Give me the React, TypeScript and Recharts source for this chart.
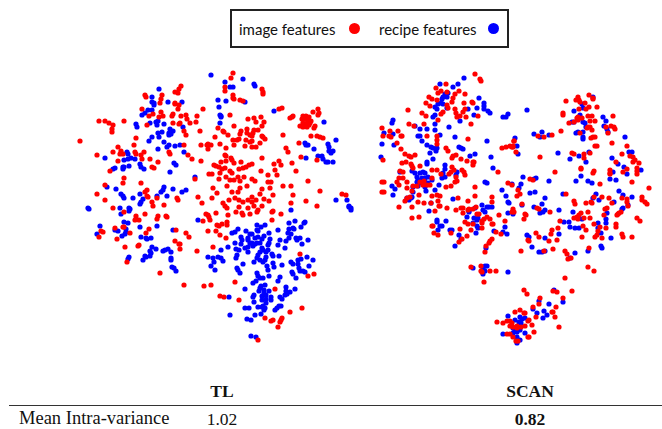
import React from "react";
import { ScatterChart, Scatter, XAxis, YAxis } from "recharts";

type P = [number, number];

const leftRed: P[] = [[181,86],[179,89],[175,92],[178,93],[162,95],[161,99],[160,103],[145,95],[146,97],[175,103],[175,104],[179,105],[178,109],[203,109],[142,109],[161,112],[163,116],[159,117],[153,114],[149,116],[173,114],[172,116],[181,116],[186,115],[197,116],[187,119],[190,123],[196,122],[99,121],[105,121],[109,123],[113,125],[124,121],[112,129],[112,132],[147,125],[173,123],[180,123],[179,124],[200,131],[218,128],[184,131],[186,135],[215,137],[136,138],[80,141],[134,145],[184,145],[201,145],[207,145],[211,145],[208,144],[208,149],[220,144],[118,147],[113,152],[121,151],[120,154],[123,154],[135,152],[136,154],[144,152],[141,155],[142,159],[169,152],[170,154],[97,155],[188,155],[192,159],[118,161],[150,159],[158,162],[201,161],[214,165],[216,166],[219,167],[152,167],[154,168],[110,171],[220,173],[209,174],[212,174],[124,178],[195,179],[219,179],[123,183],[141,183],[105,185],[213,188],[147,190],[145,192],[97,194],[217,193],[147,196],[148,197],[157,198],[177,198],[178,200],[198,197],[105,200],[202,203],[212,198],[152,202],[153,206],[164,205],[113,208],
[233,73],[231,78],[225,87],[225,91],[262,89],[263,92],[263,94],[233,95],[233,98],[234,99],[240,100],[243,101],[282,108],[279,109],[318,109],[313,112],[319,113],[318,115],[230,115],[293,116],[292,117],[290,118],[303,116],[306,116],[309,117],[302,119],[305,119],[308,119],[311,121],[303,123],[307,123],[310,123],[305,125],[309,125],[300,126],[303,127],[307,127],[315,126],[314,128],[248,119],[254,118],[261,117],[256,122],[264,122],[234,126],[262,126],[247,129],[247,133],[241,131],[240,134],[258,130],[254,130],[253,133],[223,131],[224,132],[228,135],[250,135],[252,136],[262,136],[263,137],[265,139],[283,135],[311,136],[317,136],[320,137],[323,138],[233,140],[237,140],[239,139],[246,140],[252,141],[250,142],[260,143],[234,145],[299,143],[245,146],[252,147],[256,147],[226,148],[286,148],[288,152],[225,155],[226,156],[231,158],[232,160],[234,163],[262,158],[301,157],[317,160],[226,161],[221,162],[241,162],[279,161],[281,165],[274,164],[292,163],[252,164],[249,165],[246,167],[243,168],[239,169],[225,168],[222,169],[230,171],[232,173],[261,171],[275,170],[277,175],[296,171],[268,175],[226,177],[238,177],[244,177],[240,181],[230,180],[234,180],[252,179],[255,181],[308,181],[268,182],[271,182],[227,186],[283,186],[291,186],[247,186],[270,188],[262,189],[232,192],[238,192],[240,188],[320,191],[260,194],[273,195],[235,198],[239,200],[243,202],[229,200],[252,197],[256,200],[248,200],[252,202],[293,195],[269,201],[264,199],[291,203],[306,201],[317,206],[223,203],[225,206],[239,207],[262,206],[248,208],[254,206],[342,194],[346,195],
[124,212],[145,214],[136,216],[135,220],[139,220],[158,216],[157,219],[166,216],[167,217],[206,214],[208,215],[209,217],[210,220],[216,213],[203,221],[217,225],[219,226],[124,227],[123,227],[115,228],[149,229],[101,231],[103,232],[176,230],[208,231],[216,231],[146,233],[130,233],[186,233],[189,237],[220,235],[99,237],[117,239],[175,241],[179,244],[180,244],[125,247],[139,245],[138,246],[180,249],[213,247],[197,251],[127,262],[160,273],[184,285],[204,286],[211,285],[220,296],
[227,208],[258,210],[257,212],[273,211],[272,212],[281,214],[236,212],[242,213],[243,215],[250,214],[228,215],[272,220],[227,222],[227,225],[222,224],[226,238],[300,254],[308,276],[314,274],[235,282],[275,289],[224,297],[239,300],[302,308],[290,312],[265,318],[271,321],[273,320],[282,318],[281,320],[280,322],[278,327],[258,340]];

const leftBlue: P[] = [[211,75],[159,89],[152,97],[152,102],[154,103],[154,105],[168,102],[182,102],[218,100],[219,107],[148,110],[152,110],[145,113],[142,115],[220,115],[150,123],[156,122],[158,121],[157,125],[164,124],[136,124],[137,127],[183,127],[170,129],[169,133],[173,131],[171,134],[169,135],[162,132],[158,133],[159,137],[152,137],[149,141],[164,142],[169,145],[167,147],[175,146],[180,145],[158,149],[184,152],[127,152],[128,154],[105,158],[124,160],[128,159],[131,158],[135,159],[140,164],[141,167],[144,169],[174,163],[176,165],[129,166],[123,167],[123,169],[124,167],[113,169],[115,168],[170,172],[195,177],[107,187],[116,189],[164,187],[163,190],[173,189],[186,190],[182,192],[121,194],[123,196],[124,198],[140,194],[133,198],[161,192],[167,196],[157,196],[143,199],[141,202],[140,204],[88,208],[89,209],[120,208],[130,209],
[243,79],[225,82],[254,84],[255,86],[230,87],[233,87],[245,102],[226,101],[274,111],[324,122],[221,116],[221,117],[220,123],[305,143],[306,145],[308,145],[336,140],[328,144],[329,147],[329,151],[333,151],[331,153],[314,149],[306,158],[318,156],[322,156],[323,159],[326,162],[328,162],[333,162],[336,200],[347,200],[349,206],[351,208],
[129,208],[129,211],[121,214],[124,222],[128,223],[136,219],[140,227],[157,226],[100,226],[97,234],[115,230],[118,231],[126,229],[126,232],[125,234],[122,236],[173,230],[141,237],[146,238],[147,239],[151,238],[198,220],[152,247],[150,251],[151,253],[150,256],[156,249],[163,251],[165,250],[168,249],[171,252],[145,256],[146,257],[143,260],[129,257],[128,259],[171,258],[171,260],[172,267],[174,268],[176,271],
[291,210],[349,207],[351,210],[289,223],[295,221],[305,222],[304,223],[301,227],[293,228],[289,229],[288,233],[291,234],[294,229],[278,230],[269,233],[257,225],[265,225],[261,227],[257,230],[258,231],[238,229],[235,232],[232,233],[246,231],[250,234],[252,234],[241,237],[242,240],[248,238],[248,240],[255,238],[264,236],[262,239],[258,237],[270,239],[269,243],[268,245],[250,243],[252,243],[253,245],[255,244],[257,243],[248,247],[245,248],[248,252],[253,246],[260,243],[235,243],[241,244],[228,247],[221,250],[236,249],[239,250],[278,245],[280,240],[285,248],[286,241],[289,238],[296,238],[297,240],[300,238],[302,244],[308,240],[262,248],[263,250],[260,252],[268,250],[266,252],[272,254],[273,256],[279,256],[258,255],[257,258],[266,257],[265,260],[263,262],[260,260],[254,262],[237,255],[236,258],[208,257],[213,258],[218,257],[221,258],[223,261],[214,262],[211,266],[215,270],[243,264],[237,268],[238,270],[240,273],[267,266],[268,270],[273,263],[274,267],[282,265],[291,262],[293,264],[298,260],[301,259],[307,257],[313,260],[298,264],[299,268],[300,271],[303,271],[305,272],[309,266],[292,272],[293,274],[296,278],[257,273],[258,276],[260,278],[263,278],[269,276],[280,277],[278,281],[256,281],[253,283],[265,285],[261,286],[260,288],[264,290],[259,291],[269,291],[245,289],[286,287],[286,291],[290,292],[287,294],[295,289],[285,295],[282,299],[280,297],[254,295],[253,297],[264,293],[266,295],[262,296],[266,299],[262,300],[271,297],[271,300],[229,297],[254,302],[266,303],[263,306],[262,307],[265,308],[258,307],[264,310],[279,306],[281,306],[277,308],[275,310],[245,308],[249,308],[261,314],[255,315],[230,315],[247,319],[251,320],[251,336],[256,337]];

const rightRed: P[] = [[475,74],[480,79],[481,81],[446,84],[436,88],[438,93],[441,91],[447,92],[459,91],[429,97],[432,99],[437,100],[455,94],[453,98],[452,102],[465,94],[464,103],[426,103],[430,106],[447,105],[448,108],[472,102],[473,103],[455,109],[465,109],[463,112],[408,110],[443,112],[441,114],[422,113],[426,116],[456,113],[457,117],[460,116],[466,117],[478,116],[438,120],[424,124],[409,124],[414,126],[471,124],[398,131],[382,128],[383,136],[390,131],[389,136],[391,137],[401,136],[402,136],[427,136],[437,136],[437,140],[437,144],[468,139],[397,143],[401,149],[446,148],[448,151],[506,147],[510,146],[513,146],[502,148],[514,141],[405,154],[409,156],[411,157],[415,155],[453,156],[456,155],[452,158],[383,160],[461,159],[467,161],[473,162],[473,165],[474,162],[402,163],[406,162],[411,164],[412,166],[420,166],[413,168],[403,172],[400,171],[452,167],[454,170],[451,172],[462,170],[464,172],[465,175],[432,170],[437,170],[441,174],[449,174],[498,172],[399,178],[403,178],[407,182],[397,182],[399,185],[456,177],[457,181],[455,182],[432,178],[423,185],[417,186],[413,186],[424,181],[420,182],[384,182],[382,182],[407,188],[427,185],[430,185],[446,187],[451,186],[475,187],[508,183],[512,185],[384,192],[382,192],[412,191],[419,195],[432,196],[437,195],[440,196],[475,196],[410,197],[407,198],[405,201],[458,198],[492,197],[492,202],[468,201],[418,202],[424,203],[438,201],[431,203],[412,207],[399,207],[447,208],[456,210],[461,208],[463,208],[435,211],[469,209],[476,207],[440,206],[512,212],
[589,95],[593,98],[593,99],[566,101],[578,97],[576,100],[579,100],[580,102],[585,103],[589,107],[597,107],[579,109],[586,109],[563,113],[563,115],[578,117],[577,118],[588,116],[592,116],[582,118],[578,120],[590,121],[595,121],[569,123],[574,122],[613,116],[588,127],[590,127],[587,128],[592,130],[606,127],[611,126],[614,127],[615,129],[561,131],[608,133],[580,133],[593,137],[595,137],[591,138],[538,136],[544,137],[552,135],[514,141],[512,147],[513,147],[516,152],[612,143],[595,146],[597,146],[627,146],[572,153],[574,154],[584,154],[584,158],[590,153],[622,154],[540,157],[630,156],[633,157],[635,160],[633,162],[639,163],[616,162],[581,168],[581,169],[627,169],[623,172],[637,168],[637,171],[637,174],[610,170],[610,173],[610,174],[594,171],[593,173],[555,172],[530,179],[533,180],[632,182],[600,184],[649,188],[566,194],[518,190],[520,194],[517,196],[642,197],[642,200],[645,202],[647,204],[594,197],[602,197],[609,198],[574,201],[575,204],[586,203],[591,202],[592,203],[622,198],[627,199],[627,202],[628,206],[612,203],[522,204],[537,208],[539,209],[607,208],[605,209],[550,212],[525,214],[581,213],[588,212],[621,212],[618,214],
[468,210],[473,209],[477,214],[479,214],[463,213],[499,215],[513,209],[514,212],[526,215],[524,219],[505,221],[465,222],[468,224],[473,224],[482,223],[482,221],[484,219],[490,219],[487,217],[492,224],[493,224],[482,228],[471,230],[460,229],[433,226],[432,226],[434,233],[438,235],[451,233],[496,232],[501,234],[467,236],[462,239],[459,242],[492,239],[490,241],[489,243],[486,246],[485,252],[528,240],[521,251],[471,267],[481,266],[490,271],[482,272],[496,271],[481,271],[484,282],[524,290],[527,294],[419,217],[412,218],[439,206],
[515,312],[520,310],[525,313],[497,322],[503,323],[507,321],[510,321],[528,321],[512,323],[513,327],[517,326],[510,326],[525,326],[521,327],[528,337],[507,334],[510,334],[513,337],[516,341],[518,341],[517,328],
[579,215],[577,217],[574,218],[578,219],[584,218],[590,218],[604,215],[617,215],[619,213],[560,221],[558,228],[552,230],[551,234],[549,241],[557,240],[536,233],[539,237],[529,241],[583,226],[586,230],[582,237],[594,224],[600,227],[606,228],[598,231],[616,224],[616,227],[637,218],[640,221],[595,237],[597,235],[602,238],[622,234],[623,237],[632,237],[589,248],[544,251],[553,249],[565,251],[567,254],[571,258],[568,259],[588,267],[594,271],[565,278],[553,291],[557,292],[572,291],[563,298],[540,298],[539,304],[533,307],[556,307],[552,312],[553,312],[555,317],[559,327],[536,317],[524,313],[529,320],[532,325],[534,332],[529,337]];

const rightBlue: P[] = [[464,78],[453,87],[448,93],[440,84],[458,84],[445,94],[443,97],[442,99],[447,97],[479,98],[438,104],[441,103],[443,104],[435,107],[437,109],[447,108],[484,103],[484,106],[484,109],[488,111],[490,113],[477,108],[468,109],[435,115],[433,117],[460,121],[474,115],[503,117],[506,117],[508,114],[393,120],[392,123],[435,124],[435,130],[415,126],[420,129],[427,129],[449,127],[384,133],[393,134],[418,136],[420,136],[440,135],[455,137],[422,141],[382,144],[394,145],[487,141],[427,145],[431,147],[433,148],[437,148],[436,151],[459,147],[461,148],[463,149],[430,153],[475,154],[470,156],[381,157],[433,159],[427,162],[427,164],[491,157],[493,168],[445,165],[445,169],[443,173],[445,177],[442,178],[456,175],[457,172],[412,171],[400,172],[415,173],[417,177],[420,173],[423,172],[425,173],[418,180],[422,178],[425,178],[428,177],[417,182],[425,182],[422,183],[428,183],[432,180],[413,187],[418,186],[413,192],[439,185],[425,187],[435,190],[426,191],[392,186],[395,189],[393,195],[485,182],[487,183],[502,190],[506,196],[453,199],[407,198],[409,200],[492,207],[482,205],[487,207],[483,210],[475,208],[469,211],[485,212],[429,211],[508,202],
[527,110],[574,111],[582,104],[583,108],[593,97],[580,115],[603,117],[606,121],[604,126],[572,122],[574,122],[583,122],[585,123],[580,118],[586,127],[607,129],[608,132],[578,132],[576,133],[583,132],[583,137],[583,139],[542,132],[534,134],[540,137],[549,135],[625,137],[515,138],[517,146],[518,154],[558,153],[579,156],[570,159],[586,162],[589,152],[612,158],[629,152],[632,152],[618,164],[624,167],[627,174],[641,170],[613,172],[581,176],[610,179],[616,180],[588,181],[592,183],[523,177],[521,184],[536,178],[534,179],[549,181],[576,181],[512,184],[519,188],[619,191],[535,192],[530,193],[563,194],[545,198],[596,194],[593,198],[599,200],[614,202],[623,195],[632,197],[628,205],[542,204],[534,207],[522,205],[559,210],[573,212],[545,210],[543,212],[540,213],[623,208],[622,209],[607,213],
[412,197],[411,198],[431,203],[509,203],[489,207],[469,212],[467,217],[508,213],[513,214],[474,218],[478,218],[477,220],[473,223],[437,220],[437,222],[446,221],[442,226],[440,226],[438,230],[477,226],[478,228],[505,227],[450,230],[452,230],[459,235],[476,233],[494,231],[503,232],[507,234],[527,235],[461,239],[455,246],[486,248],[473,268],[485,266],[487,266],[483,269],[485,271],[483,274],[508,272],
[508,316],[520,317],[525,318],[522,319],[519,322],[521,323],[515,320],[513,328],[515,330],[520,330],[517,332],[525,333],[513,333],[503,334],[517,337],[520,340],[517,343],
[564,222],[569,222],[570,227],[575,228],[579,228],[582,219],[598,223],[606,223],[606,219],[598,228],[601,233],[545,238],[559,234],[529,237],[611,238],[601,246],[602,248],[532,247],[539,252],[542,252],[545,251],[575,253],[570,258],[588,251],[554,290],[563,302],[539,301],[549,304],[533,309],[537,313],[544,311],[547,315],[543,318]];

const seriesNames = ["image features", "recipe features"];
const seriesColors = ["#ff0000", "#0000ff"];
const methodLabels = ["TL", "SCAN"];
const rowLabel = "Mean Intra-variance";
const rowValues = ["1.02", "0.82"];

const toPoints = (list: P[]) => list.map(([x, y]) => ({ x, y }));

const Dot = (props: any) => <circle cx={props.cx} cy={props.cy} r={2.6} fill={props.fill} />;

const LegendBox = () => (
  <div
    style={{
      position: "absolute",
      left: 230,
      top: 9,
      width: 279,
      height: 39,
      boxSizing: "border-box",
      border: "2px solid #222",
      background: "#fff",
      fontFamily: "Lato, sans-serif",
      fontSize: 15,
      color: "#111",
    }}
  >
    {seriesNames.map((name, i) => (
      <React.Fragment key={name}>
        <span style={{ position: "absolute", left: i === 0 ? 7 : 147, top: 8, lineHeight: "20px", whiteSpace: "nowrap" }}>{name}</span>
        <span
          style={{
            position: "absolute",
            left: i === 0 ? 117 : 256,
            top: 12,
            width: 11,
            height: 11,
            borderRadius: "50%",
            background: seriesColors[i],
          }}
        />
      </React.Fragment>
    ))}
  </div>
);

const serif: React.CSSProperties = {
  position: "absolute",
  fontFamily: "'Liberation Serif', serif",
  fontSize: 17.5,
  lineHeight: "16px",
  color: "#111",
  whiteSpace: "nowrap",
};

export default function App() {
  return (
    <div style={{ position: "absolute", left: 0, top: 0, width: 662, height: 429, background: "#fff", overflow: "hidden" }}>
      <ScatterChart width={662} height={429} margin={{ top: 0, right: 0, bottom: 0, left: 0 }}>
        <XAxis type="number" dataKey="x" domain={[0, 662]} hide />
        <YAxis type="number" dataKey="y" domain={[0, 429]} reversed hide />
        <Scatter name={seriesNames[1]} data={toPoints(leftBlue)} fill={seriesColors[1]} shape={Dot} isAnimationActive={false} />
        <Scatter name={seriesNames[1]} data={toPoints(rightBlue)} fill={seriesColors[1]} shape={Dot} isAnimationActive={false} />
        <Scatter name={seriesNames[0]} data={toPoints(leftRed)} fill={seriesColors[0]} shape={Dot} isAnimationActive={false} />
        <Scatter name={seriesNames[0]} data={toPoints(rightRed)} fill={seriesColors[0]} shape={Dot} isAnimationActive={false} />
      </ScatterChart>
      <LegendBox />
      <div style={{ ...serif, left: 122, width: 200, textAlign: "center", top: 383, fontWeight: 700 }}>{methodLabels[0]}</div>
      <div style={{ ...serif, left: 430, width: 200, textAlign: "center", top: 383, fontWeight: 700 }}>{methodLabels[1]}</div>
      <div style={{ position: "absolute", left: 9, top: 405, width: 653, height: 1, background: "#333" }} />
      <div style={{ ...serif, left: 19, top: 410, fontSize: 18.5 }}>{rowLabel}</div>
      <div style={{ ...serif, left: 122, width: 200, textAlign: "center", top: 411 }}>{rowValues[0]}</div>
      <div style={{ ...serif, left: 430, width: 200, textAlign: "center", top: 411, fontWeight: 700 }}>{rowValues[1]}</div>
    </div>
  );
}
